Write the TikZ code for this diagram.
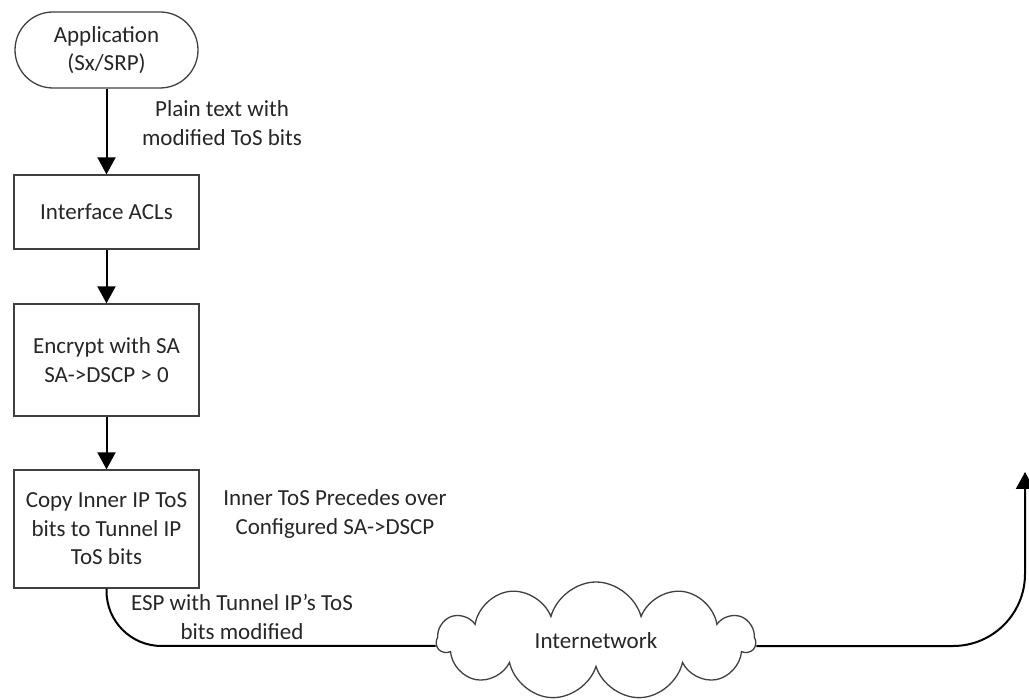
\documentclass[tikz,border=0pt]{standalone}
\usepackage{fontspec}
\setmainfont{Carlito}
\usetikzlibrary{arrows.meta,shapes.symbols}
\begin{document}
\begin{tikzpicture}[x=1pt,y=-1pt,
    every node/.style={font=\fontsize{23}{28.5}\selectfont, text=black!85, align=center},
    box/.style={draw=black!75, line width=1.3pt, minimum width=185pt, inner sep=0pt},
    flow/.style={line width=2pt, -{Triangle[width=18pt,length=17pt]}}]
  \useasboundingbox (0,0) rectangle (1029,700);
  \draw
    (106.5,50) node[box, minimum width=183pt, minimum height=76pt, rounded corners=38pt] (app){Application\\(Sx/SRP)}
    (106.5,212) node[box, minimum height=74pt] (acl){Interface ACLs}
    (106.5,360) node[box, minimum height=112pt] (enc){Encrypt with SA\\SA->DSCP > 0}
    (106.5,529) node[box, minimum height=118pt] (copy){Copy Inner IP ToS\\bits to Tunnel IP\\ToS bits}
    (596,641) node[cloud, draw=black!75, line width=1.3pt, cloud puffs=11, cloud ignores aspect,
      minimum width=318pt, minimum height=118pt, inner sep=0pt] (net){Internetwork}
    (222,123) node (plain){Plain text with\\modified ToS bits}
    (335,514) node (inner){Inner ToS Precedes over\\Configured SA->DSCP}
    (242,617) node (esp){ESP with Tunnel IP’s ToS\\bits modified};
  \coordinate (up) at (1025,472);
  \begin{scope}[flow]
    \draw (app) to (acl);
    \draw (acl) to (enc);
    \draw (enc) to (copy);
    \draw[rounded corners=72pt] ([yshift=-5pt]net.east) -| (up);
  \end{scope}
  \draw[line width=2pt, rounded corners=55pt] (copy.south) |- ([yshift=-5pt]net.west);
\end{tikzpicture}
\end{document}
